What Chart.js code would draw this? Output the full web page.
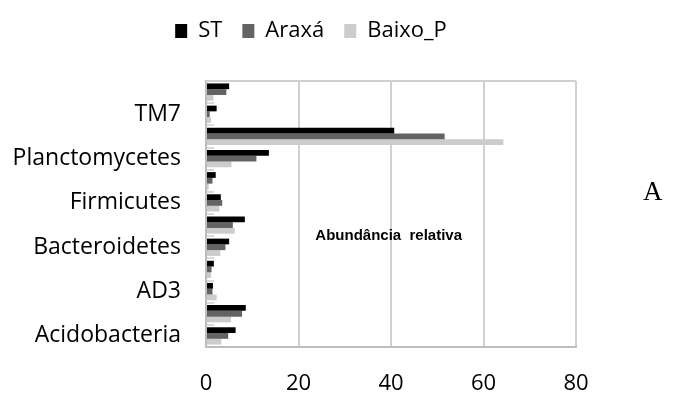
<!DOCTYPE html>
<html>
<head>
<meta charset="utf-8">
<script src="https://cdn.jsdelivr.net/npm/chart.js@4"></script>
<style>
  html, body { margin: 0; padding: 0; background: #fff; }
  #wrap { position: relative; width: 680px; height: 394px; }
  #painelLetra { position: absolute; left: 643px; top: 176px; font: 27px "Liberation Serif", "DejaVu Serif", serif; color: #000; }
</style>
</head>
<body>
<div id="wrap">
  <canvas id="abundChart" width="680" height="394"></canvas>
  <div id="painelLetra">A</div>
</div>
<script>
// Filos (de baixo para cima no gráfico)
const filos = ['Acidobacteria', 'Actinobacteria', 'AD3', 'Armatimonadetes', 'Bacteroidetes', 'Chloroflexi',
    'Firmicutes', 'Gemmatimonadetes', 'Planctomycetes', 'Proteobacteria', 'TM7', 'Verrucomicrobia'];

// Abundância relativa (%) por área
const valoresST = [6.4, 8.6, 1.5, 1.7, 5.0, 8.4, 3.2, 2.1, 13.6, 40.7, 2.3, 5.0];
const valoresAraxa = [4.8, 7.8, 1.4, 1.2, 4.2, 5.8, 3.5, 1.4, 10.9, 51.6, 0.8, 4.4];
const valoresBaixoP = [3.3, 5.4, 2.3, 1.1, 3.1, 6.2, 2.9, 0.6, 5.5, 64.3, 1.1, 1.6];

const ticksX = [0, 20, 40, 60, 80];
const tituloX = 'Abundância  relativa';

// espaço extra abaixo da legenda
const espacoLegenda = {
    id: 'espacoLegenda',
    beforeInit(chart) {
        const fitOriginal = chart.legend.fit;
        chart.legend.fit = function () {
            fitOriginal.bind(chart.legend)();
            this.height += 29;
        };
    }
};

// moldura da área do gráfico + título do eixo no meio
const moldura = {
    id: 'moldura',
    beforeDatasetsDraw(chart) {
        const { ctx, chartArea } = chart;
        ctx.save();
        ctx.strokeStyle = '#cfcfcf';
        ctx.lineWidth = 2;
        ctx.beginPath();
        ctx.moveTo(chartArea.left, chartArea.top);
        ctx.lineTo(chartArea.right, chartArea.top);
        ctx.stroke();
        ctx.restore();
    },
    afterDatasetsDraw(chart) {
        const { ctx, scales } = chart;
        ctx.save();
        ctx.font = 'bold 15px "Liberation Sans", Arial, sans-serif';
        ctx.fillStyle = '#000';
        ctx.textAlign = 'center';
        ctx.textBaseline = 'middle';
        ctx.fillText(tituloX, scales.x.getPixelForValue(39.5), scales.y.getPixelForValue(4.5));
        ctx.restore();
    }
};

const ctx = document.getElementById('abundChart').getContext('2d');
new Chart(ctx, {
    type: 'bar',
    data: {
        labels: filos,
        datasets: [
            { label: 'ST', data: valoresST, backgroundColor: '#000000' },
            { label: 'Araxá', data: valoresAraxa, backgroundColor: '#636363' },
            { label: 'Baixo_P', data: valoresBaixoP, backgroundColor: '#cccccc' }
        ]
    },
    options: {
        indexAxis: 'y',
        responsive: false,
        animation: false,
        categoryPercentage: 0.78,
        barPercentage: 1.0,
        layout: {
            padding: { top: 0, right: 58, bottom: 0, left: 0 }
        },
        plugins: {
            legend: {
                position: 'top',
                labels: {
                    boxWidth: 12,
                    boxHeight: 14,
                    padding: 20,
                    color: '#000',
                    font: { family: '"Open Sans"', size: 22 }
                }
            },
            tooltip: { enabled: false }
        },
        scales: {
            x: {
                min: 0,
                max: 80,
                afterBuildTicks: (scale) => { scale.ticks = ticksX.map(v => ({ value: v })); },
                afterFit: (scale) => { scale.height = 47; },
                grid: { color: '#d0d0d0', lineWidth: 2, drawTicks: false },
                border: { color: '#bdbdbd', width: 2 },
                ticks: {
                    padding: 24,
                    color: '#000',
                    font: { family: '"Open Sans"', size: 22 }
                }
            },
            y: {
                reverse: true,
                afterFit: (scale) => { scale.width = 206; },
                grid: { offset: true, drawOnChartArea: false, tickLength: -8, color: '#d9d9d9', lineWidth: 2 },
                border: { color: '#bdbdbd', width: 2 },
                ticks: {
                    autoSkip: false,
                    padding: 33,
                    color: '#000',
                    font: { family: '"Open Sans"', size: 23 },
                    callback: function (value, index) {
                        return index % 2 === 0 ? this.getLabelForValue(value) : '';
                    }
                }
            },
            espaco: {
                type: 'linear',
                position: 'right',
                grid: { display: false },
                border: { display: false },
                ticks: { display: false },
                afterFit: (scale) => { scale.width = 46; }
            }
        }
    },
    plugins: [espacoLegenda, moldura]
});
</script>
</body>
</html>
